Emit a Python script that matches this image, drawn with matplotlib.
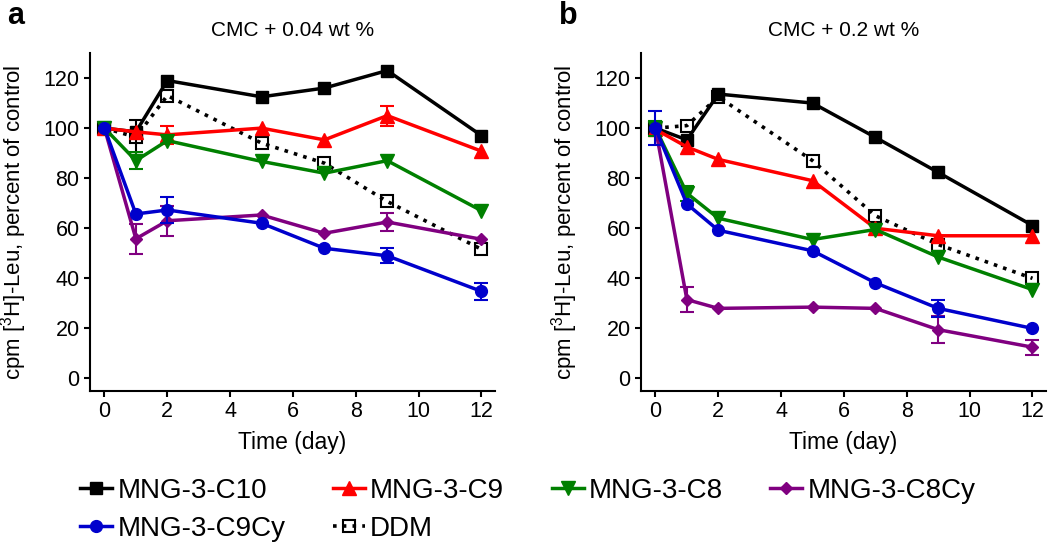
import numpy as np
import matplotlib
matplotlib.use("Agg")
import matplotlib.pyplot as plt

plt.rcParams.update({
    "font.family": ["Liberation Sans", "DejaVu Sans"],
    "mathtext.fontset": "custom",
    "mathtext.rm": "Liberation Sans",
    "axes.linewidth": 1.5,
    "xtick.major.width": 1.5, "ytick.major.width": 1.5,
    "xtick.major.size": 4.5, "ytick.major.size": 4.5,
    "xtick.labelsize": 15.5, "ytick.labelsize": 15.5,
})

# ─── DATA ────────────────────────────────────────────────
days = [0, 1, 2, 5, 7, 9, 12]
names = ["MNG-3-C10", "MNG-3-C9", "MNG-3-C8", "MNG-3-C8Cy", "MNG-3-C9Cy", "DDM"]

# panel a: CMC + 0.04 wt %
c10_a  = [100, 98.5, 119, 112.5, 116, 123, 97]
c9_a   = [100, 98.5, 97.3, 100, 95.3, 105, 90.8]
c8_a   = [100, 87, 95, 86.7, 82, 87, 67]
c8cy_a = [100, 55.8, 63, 65.3, 58, 62.5, 55.6]
c9cy_a = [100, 65.7, 67.3, 62, 52, 49, 34.8]
ddm_a  = [100, 96.4, 113, 94, 86, 70.7, 51.6]

c10_a_err  = [0, 0, 0, 0, 0, 0, 0]
c9_a_err   = [0, 0, 3.7, 0, 0, 4, 0]
c8_a_err   = [0, 3.3, 0, 0, 0, 0, 0]
c8cy_a_err = [0, 6, 6, 0, 0, 3.6, 0]
c9cy_a_err = [0, 0, 5, 0, 0, 3, 3.4]
ddm_a_err  = [0, 7, 0, 0, 0, 0, 0]

# panel b: CMC + 0.2 wt %
c10_b  = [100, 95.3, 113.6, 110, 96.3, 82.3, 61.1]
c9_b   = [99.5, 92.5, 87.5, 79, 60, 57, 57]
c8_b   = [100, 74, 64, 55.5, 59.5, 48.5, 35.5]
c8cy_b = [100, 31.5, 28, 28.5, 28, 19.5, 12.5]
c9cy_b = [100, 69.7, 59.2, 51, 38.2, 28, 20]
ddm_b  = [100, 101, 112.5, 87, 65, 53.5, 40]

c10_b_err  = [0, 0, 0, 0, 0, 0, 0]
c9_b_err   = [0, 0, 0, 0, 0, 0, 0]
c8_b_err   = [3, 3, 0, 0, 0, 0, 0]
c8cy_b_err = [0, 5, 0, 0, 0, 5.3, 3]
c9cy_b_err = [6.7, 0, 0, 0, 0, 3.5, 0]
ddm_b_err  = [0, 0, 0, 0, 0, 0, 0]

# ─── STYLES ──────────────────────────────────────────────
STY = {
    "MNG-3-C10":  dict(color="black",   marker="s", ms=8),
    "MNG-3-C9":   dict(color="#FF0000", marker="^", ms=9.5),
    "MNG-3-C8":   dict(color="#008000", marker="v", ms=9.5),
    "MNG-3-C8Cy": dict(color="#800080", marker="D", ms=5.8),
    "MNG-3-C9Cy": dict(color="#0000CC", marker="o", ms=8.5),
}

fig = plt.figure(figsize=(10.5, 5.55), dpi=100)
ax_a = fig.add_axes([90/1050, 1-391/555, 405/1050, 338/555])
ax_b = fig.add_axes([641/1050, 1-391/555, 405/1050, 338/555])

panels = [
    (ax_a, "CMC + 0.04 wt %",
     {"MNG-3-C10": (c10_a, c10_a_err), "MNG-3-C9": (c9_a, c9_a_err),
      "MNG-3-C8": (c8_a, c8_a_err), "MNG-3-C8Cy": (c8cy_a, c8cy_a_err),
      "MNG-3-C9Cy": (c9cy_a, c9cy_a_err), "DDM": (ddm_a, ddm_a_err)}),
    (ax_b, "CMC + 0.2 wt %",
     {"MNG-3-C10": (c10_b, c10_b_err), "MNG-3-C9": (c9_b, c9_b_err),
      "MNG-3-C8": (c8_b, c8_b_err), "MNG-3-C8Cy": (c8cy_b, c8cy_b_err),
      "MNG-3-C9Cy": (c9cy_b, c9cy_b_err), "DDM": (ddm_b, ddm_b_err)}),
]

handles = {}
x = np.array(days, dtype=float)
for ax, title, series in panels:
    # DDM drawn first (dotted, open squares)
    y, e = map(np.array, series["DDM"])
    m = e > 0
    ax.errorbar(x[m], y[m], yerr=e[m], fmt="none", ecolor="black",
                elinewidth=1.5, capsize=5, capthick=1.5, zorder=2)
    h, = ax.plot(x, y, linestyle=(0, (1, 1.7)), color="black", lw=2.6,
                 marker="s", ms=9, mfc="none", mec="black", mew=1.5, zorder=2)
    handles["DDM"] = h
    for name in ["MNG-3-C10", "MNG-3-C9", "MNG-3-C8", "MNG-3-C8Cy", "MNG-3-C9Cy"]:
        y, e = map(np.array, series[name])
        st = STY[name]
        m = e > 0
        ax.errorbar(x[m], y[m], yerr=e[m], fmt="none", ecolor=st["color"],
                    elinewidth=1.5, capsize=5, capthick=1.5, zorder=3)
        h, = ax.plot(x, y, color=st["color"], lw=2.5, marker=st["marker"],
                     ms=st["ms"], mec=st["color"], zorder=3)
        handles[name] = h

    ax.set_xlim(-0.46, 12.43)
    ax.set_ylim(-5, 130)
    ax.set_xticks(range(0, 13, 2))
    ax.set_yticks(range(0, 121, 20))
    ax.spines[["top", "right"]].set_visible(False)
    ax.tick_params(direction="out", pad=3)
    ax.set_xlabel("Time (day)", fontsize=16.5, labelpad=6)
    ax.set_ylabel(r"cpm [$\mathregular{^3}$H]-Leu, percent of control", fontsize=16)
    ax.yaxis.set_label_coords(-0.15, 0.5)
    ax.set_title(title, fontsize=15, pad=12)

fig.text(7/1050, 1-24/555, "a", fontsize=22, fontweight="bold")
fig.text(559/1050, 1-24/555, "b", fontsize=22, fontweight="bold")

# legend: order so rows read C10, C9, C8, C8Cy / C9Cy, DDM
order = ["MNG-3-C10", "MNG-3-C9Cy", "MNG-3-C9", "DDM", "MNG-3-C8", "MNG-3-C8Cy"]
fig.legend([handles[n] for n in order], order, loc="upper left",
           bbox_to_anchor=(80/1050, 1-478/555), ncol=4, frameon=False,
           fontsize=20, handlelength=1.15, handletextpad=0.2,
           columnspacing=1.7, labelspacing=0.42, borderpad=0, borderaxespad=0)

fig.savefig("out.png", dpi=100)
plt.close()
